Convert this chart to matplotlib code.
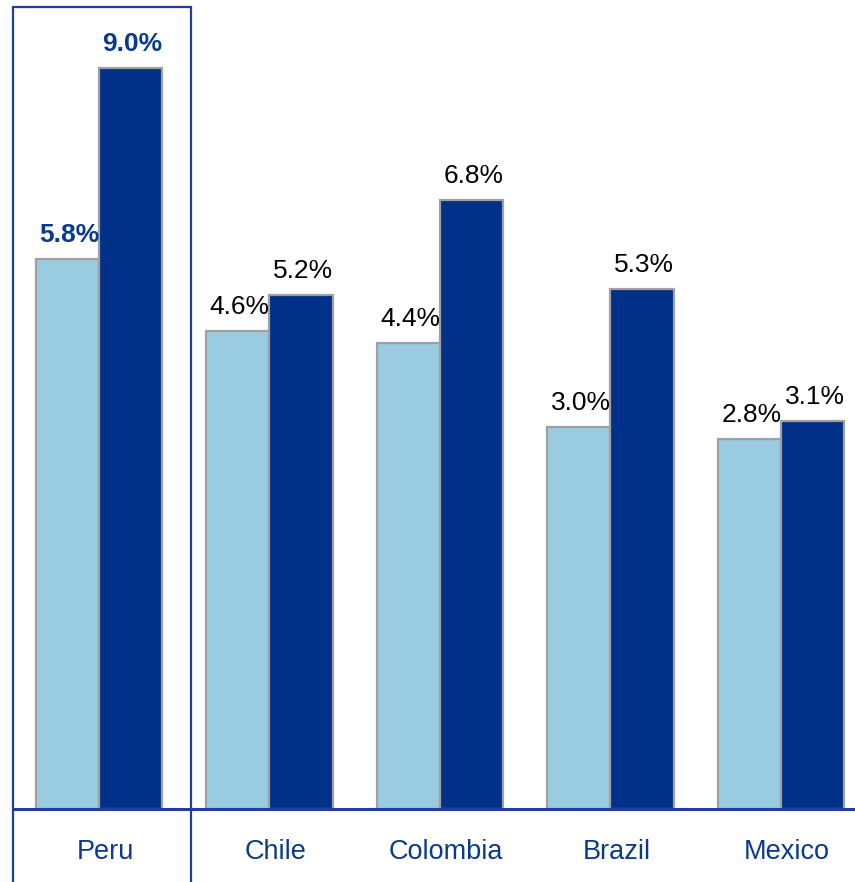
import matplotlib
matplotlib.use("Agg")
import matplotlib.pyplot as plt
from matplotlib.patches import Rectangle
import numpy as np

plt.rcParams['font.family'] = ['Liberation Sans', 'DejaVu Sans']

countries = ["Peru", "Chile", "Colombia", "Brazil", "Mexico"]
series_a = [5.8, 4.6, 4.4, 3.0, 2.8]   # light bars
series_b = [9.0, 5.2, 6.8, 5.3, 3.1]   # dark bars

LIGHT = "#99CCE0"
DARK = "#003087"
EDGE = "#A0A0A0"
NAVY = "#1F3F99"
TEXT_BLUE = "#0A3A8C"

W_PX, H_PX, DPI = 855, 882, 100
fig = plt.figure(figsize=(W_PX / DPI, H_PX / DPI), dpi=DPI)
ax = fig.add_axes([13 / W_PX, 73 / H_PX, (W_PX - 13) / W_PX, 809 / H_PX])

y_floor = -3.4
ax.set_ylim(y_floor, 10.14)
ax.set_xlim(-0.504, 4.434)

x = np.arange(len(countries))
bw = 0.372
for xs, vals, col in ((x - bw / 2, series_a, LIGHT), (x + bw / 2, series_b, DARK)):
    heights = [v - y_floor for v in vals]
    ax.bar(xs, heights, width=bw, bottom=y_floor, color=col,
           edgecolor=EDGE, linewidth=1.6, zorder=2)
    for xi, v, cname in zip(xs, vals, countries):
        hl = cname == "Peru"
        ax.annotate(f"{v:.1f}%", xy=(xi, v), xytext=(2, 17),
                    textcoords="offset pixels", ha="center", va="baseline",
                    fontsize=19, color=TEXT_BLUE if hl else "black",
                    fontweight="bold" if hl else "normal", zorder=3)

# category labels under the baseline
for xi, name in zip(x, countries):
    ax.annotate(name, xy=(xi, y_floor), xytext=(6, -50),
                textcoords="offset pixels", ha="center", va="baseline",
                fontsize=19.5, color=TEXT_BLUE, annotation_clip=False)

for s in ("top", "right", "left"):
    ax.spines[s].set_visible(False)
ax.spines["bottom"].set_color(NAVY)
ax.spines["bottom"].set_linewidth(2.2)
ax.spines["bottom"].set_zorder(4)
ax.set_xticks([])
ax.set_yticks([])

# highlight frame around the first country
frame = Rectangle((-0.502, -0.2), 0.542 + 0.502, 1.0 - 7 / 809 + 0.2,
                  transform=ax.get_xaxis_transform(), fill=False,
                  edgecolor=NAVY, linewidth=1.6, clip_on=False, zorder=5)
ax.add_patch(frame)

fig.savefig("out.png", dpi=DPI)
